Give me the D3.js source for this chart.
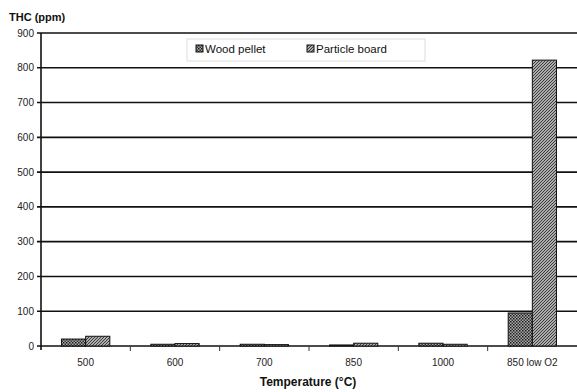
<!DOCTYPE html>
<html>
<head>
<meta charset="utf-8">
<script src="https://cdn.jsdelivr.net/npm/d3@7"></script>
<style>
body { margin: 0; background: #fff; }
svg { font-family: "Liberation Sans", Arial, sans-serif; }
</style>
</head>
<body>
<script>
//chart data
var categories = ["500", "600", "700", "850", "1000", "850 low O2"];
var seriesNames = ["Wood pellet", "Particle board"];
var woodPellet = [20, 5, 5, 3, 8, 95];
var particleBoard = [28, 7, 4, 8, 5, 822];
var yTicks = [0, 100, 200, 300, 400, 500, 600, 700, 800, 900];

var width = 577, height = 392;
var margin = {top: 33, right: 0, bottom: 46, left: 41};

var svg = d3.select("body").append("svg")
    .attr("width", width)
    .attr("height", height);

//fill patterns
var defs = svg.append("defs");
var p1 = defs.append("pattern")
    .attr("id", "wood")
    .attr("patternUnits", "userSpaceOnUse")
    .attr("width", 3).attr("height", 3);
p1.append("rect").attr("width", 3).attr("height", 3).attr("fill", "#aaa");
p1.append("rect").attr("width", 1.5).attr("height", 1.5).attr("fill", "#1a1a1a");
p1.append("rect").attr("x", 1.5).attr("y", 1.5).attr("width", 1.5).attr("height", 1.5).attr("fill", "#333");

var p2 = defs.append("pattern")
    .attr("id", "board")
    .attr("patternUnits", "userSpaceOnUse")
    .attr("width", 3).attr("height", 3);
p2.append("rect").attr("width", 3).attr("height", 3).attr("fill", "#ddd");
p2.append("path").attr("d", "M-1,1 L1,-1 M0,3 L3,0 M2,4 L4,2")
    .attr("stroke", "#333").attr("stroke-width", 1.1);

var fills = ["url(#wood)", "url(#board)"];

var x = d3.scaleBand()
    .domain(categories)
    .range([margin.left, width - margin.right]);

var x1 = d3.scaleBand()
    .domain(seriesNames)
    .range([0, x.bandwidth()])
    .paddingOuter(0.85);

var y = d3.scaleLinear()
    .domain([0, 900])
    .range([height - margin.bottom, margin.top]);

//gridlines
svg.append("g").selectAll("line")
    .data(yTicks)
    .enter().append("line")
    .attr("x1", margin.left - 4)
    .attr("x2", width)
    .attr("y1", function(d){ return y(d); })
    .attr("y2", function(d){ return y(d); })
    .attr("stroke", "#111")
    .attr("stroke-width", 1.6);

//y tick labels
svg.append("g").selectAll("text")
    .data(yTicks)
    .enter().append("text")
    .attr("x", margin.left - 7)
    .attr("y", function(d){ return y(d) + 3.5; })
    .attr("text-anchor", "end")
    .attr("font-size", 10)
    .attr("fill", "#222")
    .text(function(d){ return d; });

//bars
var series = [woodPellet, particleBoard];
series.forEach(function(vals, s){
    svg.append("g").selectAll("rect")
        .data(vals)
        .enter().append("rect")
        .attr("x", function(d, i){ return x(categories[i]) + x1(seriesNames[s]); })
        .attr("y", function(d){ return y(d); })
        .attr("width", x1.bandwidth())
        .attr("height", function(d){ return y(0) - y(d); })
        .attr("fill", fills[s])
        .attr("stroke", "#111")
        .attr("stroke-width", 1);
});

//y axis line
svg.append("line")
    .attr("x1", margin.left).attr("x2", margin.left)
    .attr("y1", y(900)).attr("y2", y(0) + 4)
    .attr("stroke", "#111").attr("stroke-width", 1.6);

//x ticks between categories
svg.append("g").selectAll("line")
    .data(categories.slice(1))
    .enter().append("line")
    .attr("x1", function(d){ return x(d); })
    .attr("x2", function(d){ return x(d); })
    .attr("y1", y(0))
    .attr("y2", y(0) + 5)
    .attr("stroke", "#333");

//x labels
svg.append("g").selectAll("text")
    .data(categories)
    .enter().append("text")
    .attr("x", function(d){ return x(d) + x.bandwidth() / 2; })
    .attr("y", y(0) + 20)
    .attr("text-anchor", "middle")
    .attr("font-size", 10)
    .attr("fill", "#222")
    .text(function(d){ return d; });

//axis titles
svg.append("text")
    .attr("x", 9).attr("y", 21)
    .attr("font-size", 11).attr("font-weight", "bold")
    .attr("fill", "#111")
    .text("THC (ppm)");

svg.append("text")
    .attr("x", 308).attr("y", 386)
    .attr("text-anchor", "middle")
    .attr("font-size", 12).attr("font-weight", "bold")
    .attr("fill", "#111")
    .text("Temperature (°C)");

//legend
var legend = svg.append("g");
legend.append("rect")
    .attr("x", 187).attr("y", 39)
    .attr("width", 238).attr("height", 22)
    .attr("fill", "#fff")
    .attr("stroke", "#ddd");

var legendX = [196, 307];
seriesNames.forEach(function(name, s){
    legend.append("rect")
        .attr("x", legendX[s]).attr("y", 45)
        .attr("width", 7).attr("height", 7)
        .attr("fill", fills[s])
        .attr("stroke", "#111");
    legend.append("text")
        .attr("x", legendX[s] + 9).attr("y", 53)
        .attr("font-size", 11.5)
        .attr("fill", "#111")
        .text(name);
});
</script>
</body>
</html>
